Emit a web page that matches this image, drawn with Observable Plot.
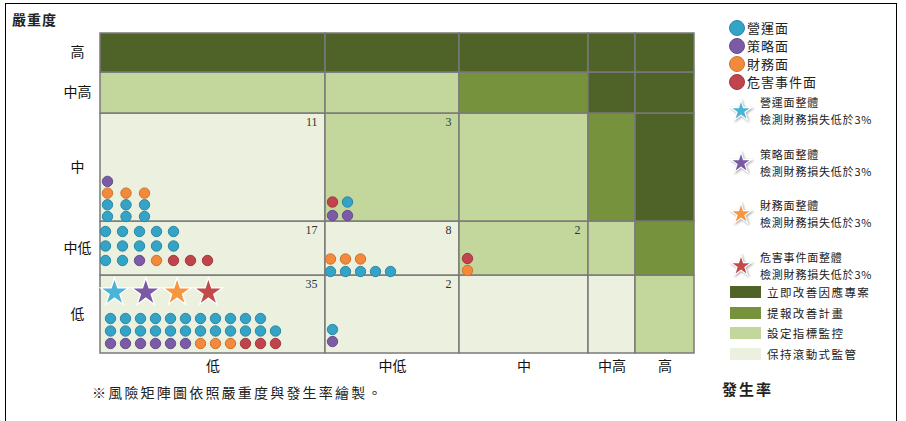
<!DOCTYPE html>
<html>
<head>
<meta charset="utf-8">
<script src="https://cdn.jsdelivr.net/npm/d3@7"></script>
<script src="https://cdn.jsdelivr.net/npm/@observablehq/plot@0.6"></script>
<style>
  body { margin:0; background:#fff; font-family:"Noto Sans CJK TC", sans-serif; color:#222; }
  #frame { position:absolute; left:5px; top:3px; width:892px; height:440px; border:1.5px solid #000; box-sizing:border-box; }
  #chart { position:absolute; left:0; top:0; }
  .abs { position:absolute; white-space:nowrap; }
  g[aria-label="stars"] path { filter: drop-shadow(1px 1.5px 1px rgba(0,0,0,0.35)); }
</style>
</head>
<body>
<div id="frame"></div>
<div id="chart"></div>
<div class="abs" id="ytitle" style="left:12px;top:9px;font-size:14px;font-weight:bold;letter-spacing:1px;">嚴重度</div>
<div class="abs" id="caption" style="left:92px;top:382px;font-size:14px;letter-spacing:2.2px;">※風險矩陣圖依照嚴重度與發生率繪製。</div>
<div class="abs" id="xtitle" style="left:722px;top:378px;font-size:15px;font-weight:bold;letter-spacing:2px;">發生率</div>
<div id="legend"></div>
<script>
// ---- data ----
const severities = ["低","中低","中","中高","高"];      // bottom -> top
const occurrences = ["低","中低","中","中高","高"];     // left -> right
const categories = ["營運面","策略面","財務面","危害事件面"];
const categoryCodes = "OSFH";
const catColors = ["#35a3c5","#7c5ba6","#f3893a","#c0444b"];
const starColors = ["#4bb3d6","#7a5aa6","#f7963f","#c44a4a"];
const starNote = "檢測財務損失低於3%";
const levelNames = ["保持滾動式監管","設定指標監控","提報改善計畫","立即改善因應專案"];
const levelColors = ["#ebf1de","#c3d69b","#76923c","#4f6228"];
// riskLevel[severity][occurrence]
const riskLevel = [
  [0,0,0,0,1],
  [0,0,1,1,2],
  [0,1,1,2,3],
  [1,1,2,3,3],
  [3,3,3,3,3]
];
const cellCounts = [
  {sev:"中", occ:"低", n:11},
  {sev:"中", occ:"中低", n:3},
  {sev:"中低", occ:"低", n:17},
  {sev:"中低", occ:"中低", n:8},
  {sev:"中低", occ:"中", n:2},
  {sev:"低", occ:"低", n:35},
  {sev:"低", occ:"中低", n:2}
];
// dots per cell, rows listed bottom -> top (O 營運, S 策略, F 財務, H 危害)
const cellDots = [
  {sev:"低", occ:"低", rows:["SSSSSSFFFHHH","OOOOOOOOOOOO","OOOOOOOOOOO"]},
  {sev:"中低", occ:"低", rows:["OOSFHHH","OOOOO","OOOOO"]},
  {sev:"中", occ:"低", rows:["OOO","OOO","FFF","S"]},
  {sev:"中", occ:"中低", rows:["SS","HO"]},
  {sev:"中低", occ:"中低", rows:["OOOOO","FFF"]},
  {sev:"低", occ:"中低", rows:["S","O"]},
  {sev:"中低", occ:"中", rows:["F","H"]}
];
const starCell = {sev:"低", occ:"低"};

// ---- layout (pixels) ----
const xEdges = [100,325,459,588,635,694];
const yEdges = [353,275,221,113,72,33];
const dotLayout = {
  "低|低":   {padX:10, padBottom:10, gapX:15,   gapY:12.5},
  "中低|低": {padX:5,  padBottom:15, gapX:17,   gapY:14.5},
  "中|低":   {padX:7,  padBottom:5,  gapX:18.5, gapY:11.7},
  "中|中低": {padX:7,  padBottom:6,  gapX:15,   gapY:13.5},
  "中低|中低": {padX:5, padBottom:4, gapX:15,   gapY:12.5},
  "低|中低": {padX:7,  padBottom:12, gapX:15,   gapY:12},
  "中低|中": {padX:8,  padBottom:5,  gapX:15,   gapY:12}
};
const starLayout = {padX:14, padTop:17, gapX:31.3};

const xOpts = {type:"linear", domain:d3.range(6), range:xEdges};
const yOpts = {type:"linear", domain:d3.range(6), range:yEdges};
const xs = Plot.scale({x:xOpts});
const ys = Plot.scale({y:yOpts});

const cells = [];
severities.forEach((s,si) => occurrences.forEach((o,oi) => cells.push({si, oi, level:riskLevel[si][oi]})));

const dots = [];
cellDots.forEach(c => {
  const si = severities.indexOf(c.sev), oi = occurrences.indexOf(c.occ);
  const L = dotLayout[c.sev + "|" + c.occ];
  c.rows.forEach((row, r) => [...row].forEach((code, j) => {
    dots.push({
      cat: categoryCodes.indexOf(code),
      x: xs.invert(xs.apply(oi) + L.padX + j*L.gapX),
      y: ys.invert(ys.apply(si) - L.padBottom - r*L.gapY)
    });
  }));
});
const stars = categories.map((c,i) => {
  const si = severities.indexOf(starCell.sev), oi = occurrences.indexOf(starCell.occ);
  return {cat:i, x: xs.invert(xs.apply(oi) + starLayout.padX + i*starLayout.gapX),
          y: ys.invert(ys.apply(si+1) + starLayout.padTop)};
});

const marks = [];
levelNames.forEach((name, li) => {
  marks.push(Plot.rect(cells.filter(d => d.level === li), {
    x1:"oi", x2: d => d.oi+1, y1:"si", y2: d => d.si+1,
    fill: levelColors[li], stroke:"#7a7a7a", strokeWidth:1.5
  }));
});
marks.push(Plot.text(cellCounts, {
  x: d => occurrences.indexOf(d.occ)+1, y: d => severities.indexOf(d.sev)+1,
  text: d => String(d.n), dx:-8, dy:9, textAnchor:"end",
  fontFamily:"Liberation Serif", fontSize:12, fill:"#333"
}));
categories.forEach((c,i) => {
  marks.push(Plot.dot(dots.filter(d => d.cat === i), {
    x:"x", y:"y", r:5.2, fill:catColors[i],
    stroke: d3.color(catColors[i]).darker(0.5).formatHex(), strokeWidth:1
  }));
});
categories.forEach((c,i) => {
  marks.push(Plot.dot(stars.filter(d => d.cat === i), {
    x:"x", y:"y", r:8.8, symbol:"star", fill:starColors[i],
    stroke:"#fff", strokeWidth:1.3, ariaLabel:"stars"
  }));
});
marks.push(Plot.axisX(d3.range(5).map(i => i+0.5), {
  tickFormat: d => occurrences[Math.floor(d)], tickSize:0, tickPadding:8,
  fontSize:14, fill:"#111"
}));
marks.push(Plot.axisY(d3.range(5).map(i => i+0.5), {
  tickFormat: d => severities[Math.floor(d)], tickSize:0, tickPadding:23,
  textAnchor:"middle", fontSize:14, fill:"#111"
}));

const plot = Plot.plot({
  width:715, height:380,
  marginLeft:100, marginRight:21, marginTop:33, marginBottom:27,
  x:xOpts, y:yOpts,
  style:{fontFamily:"'Noto Sans CJK TC', sans-serif", background:"transparent", overflow:"visible"},
  marks
});
document.getElementById("chart").appendChild(plot);

// ---- legend ----
const legend = document.getElementById("legend");
function add(html, style) {
  const d = document.createElement("div");
  d.className = "abs"; d.innerHTML = html; d.setAttribute("style", style);
  legend.appendChild(d);
}
categories.forEach((c,i) => {
  const cy = 28 + i*18;
  add("", `left:729px;top:${cy-8}px;width:16px;height:16px;border-radius:50%;background:${catColors[i]};box-sizing:border-box;border:1px solid ${d3.color(catColors[i]).darker(0.5)}`);
  add(c, `left:747px;top:${cy-10}px;font-size:13px;line-height:20px;letter-spacing:1px;`);
});
const starPath = d3.symbol(d3.symbolStar, 11*11/0.8908)();
categories.forEach((c,i) => {
  const cy = 111 + i*51.7;
  add(`<svg width="30" height="30" style="overflow:visible"><path transform="translate(15,15)" d="${starPath}" fill="${starColors[i]}" stroke="#fff" stroke-width="1.2" style="filter:drop-shadow(1px 1.5px 1px rgba(0,0,0,0.35))"/></svg>`,
      `left:726px;top:${cy-15}px;`);
  add(`${c}整體<br>${starNote}`, `left:760px;top:${cy-17}px;font-size:11px;line-height:17px;letter-spacing:0.8px;`);
});
[3,2,1,0].forEach((li,k) => {
  const cy = 292 + k*20.5;
  add("", `left:730px;top:${cy-6}px;width:31px;height:12px;background:${levelColors[li]};`);
  add(levelNames[li], `left:767px;top:${cy-9}px;font-size:11.5px;line-height:18px;letter-spacing:1.4px;`);
});
</script>
</body>
</html>
